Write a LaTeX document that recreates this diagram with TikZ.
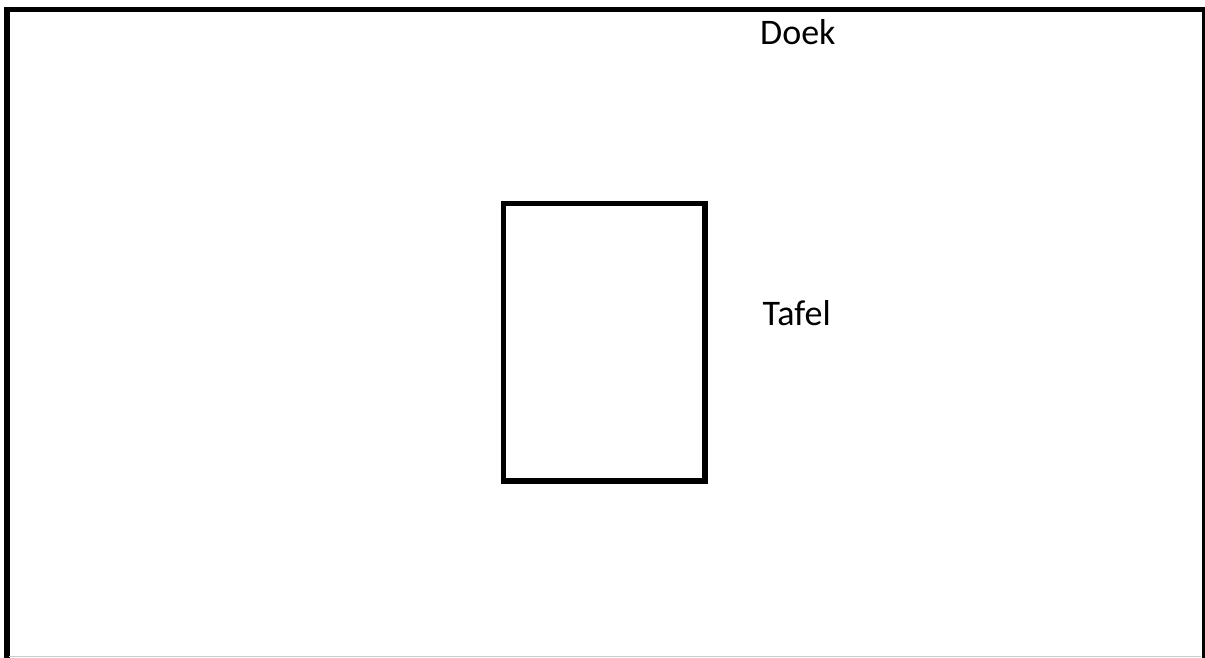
\documentclass[tikz,border=0pt]{standalone}
\usepackage{fontspec}
\setmainfont{Carlito}
\begin{document}
\begin{tikzpicture}[x=1pt,y=-1pt,
  frame/.style={draw=black,line width=5.5pt},
  lbl/.style={anchor=base west,inner sep=0pt,font=\fontsize{36}{40}\selectfont}]
\useasboundingbox (0,0) rectangle (1205,657);
\fill[white] (0,0) rectangle (1205,657);
\coordinate (bl) at (7,657);
\coordinate (tl) at (7,9.3);
\coordinate (tr) at (1204.5,9.3);
\coordinate (br) at (1204.5,657);
\draw[frame,line cap=rect] (bl) -- (tl) -- (tr) -- (br);
\draw[gray!40,line width=1.2pt] (9,656.4) -- (1201,656.4);
\node[frame,minimum width=201.5pt,minimum height=277.5pt,inner sep=0pt] (tafelbox) at (604.25,342.25) {};
\node[lbl] (doek) at (760,44.3) {Doek};
\node[lbl] (tafel) at (762.5,325) {Tafel};
\end{tikzpicture}
\end{document}
